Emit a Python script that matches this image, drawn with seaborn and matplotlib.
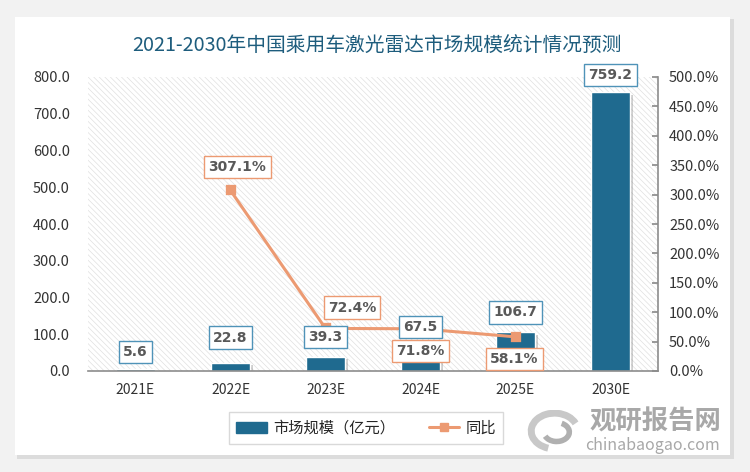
import matplotlib.pyplot as plt
import matplotlib.patches as mpatches
import matplotlib.patheffects as pe
from matplotlib.lines import Line2D
import seaborn as sns
import pandas as pd

# data
years = ['2021E', '2022E', '2023E', '2024E', '2025E', '2030E']
market_size = [5.6, 22.8, 39.3, 67.5, 106.7, 759.2]
yoy_years = ['2022E', '2023E', '2024E', '2025E']
yoy_pct = [307.1, 72.4, 71.8, 58.1]

title = '2021-2030年中国乘用车激光雷达市场规模统计情况预测'
bar_name = '市场规模（亿元）'
line_name = '同比'

# label placement (points)
bar_label_dy = [12, 18, 14, 14, 14, 12]
pct_label_off = [(5, 17), (19, 15), (0, -16), (-1, -16)]

sns.set_theme(style='white')
plt.rcParams['font.family'] = ['Noto Sans CJK SC', 'DejaVu Sans']
plt.rcParams['hatch.linewidth'] = 0.5

BAR = '#1F6A8F'
LINE = '#EC9A72'
TXT = '#595959'
W, H = 750, 472

fig = plt.figure(figsize=(7.5, 4.72), dpi=100)
fig.patch.set_facecolor('#f2f2f2')
fig.patches.append(mpatches.Rectangle((17 / W, 1 - 459 / H), 717 / W, 440 / H, transform=fig.transFigure,
                                      facecolor='#dcdcdc', edgecolor='none', zorder=-2))
fig.patches.append(mpatches.Rectangle((15 / W, 1 - 455 / H), 715 / W, 438 / H, transform=fig.transFigure,
                                      facecolor='white', edgecolor='none', zorder=-1))

ax = fig.add_axes([88 / W, 1 - 371 / H, 570 / W, 294 / H])
ax.set_facecolor('none')
ax.add_patch(mpatches.Rectangle((0, 0), 1, 1, transform=ax.transAxes, facecolor='white',
                                edgecolor='#e0e0e0', hatch='\\\\\\\\\\\\', lw=0, zorder=0.5))

df = pd.DataFrame({'year': years, 'size': market_size})
sns.barplot(data=df, x='year', y='size', order=years, color=BAR, width=0.42,
            saturation=1, ax=ax, zorder=2)
for bar in ax.containers[0]:
    bar.set_path_effects([pe.SimplePatchShadow(offset=(2, -2), shadow_rgbFace='#777777', alpha=0.35),
                          pe.Normal()])

ax.set_ylim(0, 800)
ax.set_yticks(range(0, 801, 100))
ax.set_yticklabels([f'{v:.1f}' for v in range(0, 801, 100)])
ax.set_xlabel('')
ax.set_ylabel('')
ax.tick_params(axis='y', length=0, labelsize=10.5, labelcolor='#333333', pad=13)
ax.tick_params(axis='x', length=0, labelsize=10, labelcolor='#333333', pad=9)
for s in ['left', 'top', 'right']:
    ax.spines[s].set_visible(False)
ax.spines['bottom'].set_color('#8c8c8c')
ax.spines['bottom'].set_linewidth(1.2)

ax2 = ax.twinx()
dfl = pd.DataFrame({'year': yoy_years, 'pct': yoy_pct})
sns.pointplot(data=dfl, x='year', y='pct', order=years, color=LINE, markers='s',
              markersize=6, linewidth=2.2, errorbar=None, ax=ax2)
ax2.set_ylim(0, 500)
ax2.set_yticks(range(0, 501, 50))
ax2.set_yticklabels([f'{v:.1f}%' for v in range(0, 501, 50)])
ax2.set_ylabel('')
ax2.set_xlabel('')
ax2.tick_params(axis='y', direction='in', length=4, color='#8c8c8c', labelsize=10.5,
                labelcolor='#333333', pad=8)
for s in ['left', 'top', 'bottom']:
    ax2.spines[s].set_visible(False)
ax2.spines['right'].set_color('#8c8c8c')
ax2.spines['right'].set_linewidth(1.2)

# data labels (drawn on the top axes so they sit over the line)
for i, (v, dy) in enumerate(zip(market_size, bar_label_dy)):
    ax2.annotate(f'{v:.1f}', xy=(i, v), xycoords=ax.transData, xytext=(0, dy),
                 textcoords='offset points', ha='center', va='center', fontsize=10,
                 fontweight='bold', color=TXT, family='DejaVu Sans', zorder=10,
                 bbox=dict(boxstyle='square,pad=0.3', fc='white', ec='#4F93B8', lw=1))
for yr, v, (dx, dy) in zip(yoy_years, yoy_pct, pct_label_off):
    ax2.annotate(f'{v:.1f}%', xy=(years.index(yr), v), xytext=(dx, dy),
                 textcoords='offset points', ha='center', va='center', fontsize=10,
                 fontweight='bold', color=TXT, family='DejaVu Sans', zorder=10,
                 bbox=dict(boxstyle='square,pad=0.3', fc='white', ec=LINE, lw=1))

fig.text(0.503, 1 - 45 / H, title, ha='center', va='center', fontsize=14.2, color='#1E5D7D')

handles = [mpatches.Patch(color=BAR),
           Line2D([], [], color=LINE, marker='s', lw=2.2, ms=6)]
leg = fig.legend(handles, [bar_name, line_name], loc='center', bbox_to_anchor=(366 / W, 1 - 428 / H),
                 ncol=2, frameon=True, fancybox=False, edgecolor='#d0d0d0', fontsize=11,
                 handlelength=2.0, handletextpad=0.4, columnspacing=2.2, borderpad=0.5)
leg.get_frame().set_linewidth(1)

# watermark
fig.text(655 / W, 1 - 422 / H, '观研报告网', ha='center', va='center', fontsize=19,
         fontweight='bold', color='#a8a8a8')
fig.text(652 / W, 1 - 446 / H, 'chinabaogao.com', ha='center', va='center', fontsize=11.5,
         color='#a8a8a8')
lax = fig.add_axes([527 / W, 1 - 452 / H, 55 / W, 42 / H])
lax.set_xlim(-1.3, 1.3)
lax.set_ylim(-1, 1)
lax.axis('off')
lax.add_patch(mpatches.Arc((0, 0), 2.2, 1.7, theta1=20, theta2=250, lw=5, color='#c8c8c8'))
lax.add_patch(mpatches.Arc((0.1, -0.05), 1.2, 0.9, theta1=200, theta2=420, lw=4, color='#b0b0b0'))

fig.savefig('out.png', dpi=100, facecolor=fig.get_facecolor())
